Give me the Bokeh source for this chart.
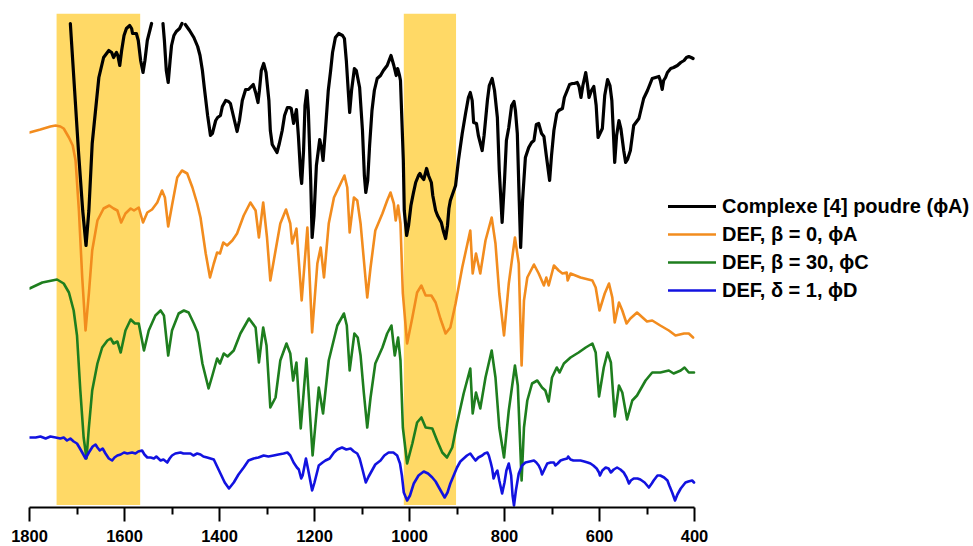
import numpy as np
from bokeh.plotting import figure
from bokeh.models import Range1d, FixedTicker, BoxAnnotation, Legend, LegendItem
from bokeh.core.properties import value
from bokeh.embed import file_html
from bokeh.resources import INLINE

nan = float("nan")

# ---------------- data (wavenumber cm-1, offset transmittance a.u.) ----------------
wn_black = [
    1714, 1705, 1697, 1688, 1681, 1675, 1668, 1661, 1654, 1644,
    1633, 1627, 1623, 1617, 1614, 1610, 1606, 1601, 1596, 1589,
    1585, 1583, 1575, 1571, 1566, 1561, 1557, 1552, 1543, 1531,
    1519, 1516, 1512, 1508, 1504, 1501, 1496, 1491, 1484, 1479,
    1476, 1472, 1463, 1454, 1446, 1441, 1436, 1432, 1425, 1419,
    1415, 1408, 1404, 1398, 1394, 1387, 1381, 1377, 1371, 1363,
    1358, 1352, 1345, 1339, 1335, 1329, 1324, 1319, 1316, 1312,
    1307, 1302, 1296, 1293, 1289, 1284, 1279, 1274, 1268, 1263,
    1257, 1253, 1249, 1244, 1238, 1234, 1229, 1227, 1223, 1220,
    1216, 1213, 1208, 1205, 1201, 1196, 1189, 1185, 1182, 1177,
    1171, 1166, 1162, 1156, 1149, 1145, 1141, 1137, 1133, 1129,
    1126, 1122, 1116, 1112, 1105, 1099, 1095, 1092, 1088, 1084,
    1079, 1074, 1068, 1061, 1055, 1047, 1043, 1039, 1036, 1033,
    1028, 1025, 1021, 1019, 1016, 1013, 1011, 1006, 1002, 997,
    992, 987, 981, 978, 975, 970, 964, 960, 954, 951,
    945, 941, 933, 929, 924, 920, 917, 914, 903, 897,
    889, 882, 876, 872, 868, 865, 859, 855, 847, 843,
    836, 832, 826, 821, 815, 811, 805, 800, 796, 791,
    785, 780, 777, 773, 769, 766, 762, 756, 749, 743,
    738, 733, 728, 722, 717, 712, 705, 701, 696, 690,
    686, 678, 674, 668, 663, 657, 653, 647, 643, 639,
    635, 629, 625, 622, 617, 612, 607, 603, 599, 594,
    589, 583, 578, 574, 571, 568, 564, 559, 555, 549,
    545, 541, 535, 528, 517, 513, 507, 499, 489, 482,
    475, 472, 468, 465, 461, 457, 450, 444, 436, 429,
    422, 417, 412, 407, 403]
t_black = [
    484, 417, 357, 297, 262, 297, 364, 397, 430, 450,
    457, 455, 450, 455, 452, 442, 457, 472, 479, 482,
    479, 474, 474, 467, 447, 435, 447, 467, 484, nan,
    484, 467, 437, 425, 447, 462, 472, 476, 479, 484,
    nan, 483, 477, 470, 461, 452, 437, 420, 392, 372,
    374, 387, 390, 392, 401, 407, 406, 404, 392, 376,
    387, 407, 418, 418, 420, 423, 415, 405, 417, 437,
    444, 435, 407, 377, 363, 359, 355, 364, 377, 392,
    400, 400, 399, 384, 398, 372, 332, 324, 357, 402,
    417, 397, 327, 270, 292, 342, 368, 359, 347, 377,
    417, 437, 455, 470, 474, 473, 472, 469, 447, 417,
    395, 417, 439, 437, 420, 377, 332, 315, 327, 362,
    397, 417, 429, 432, 437, 442, 447, 452, 447, 442,
    432, 439, 432, 427, 387, 347, 297, 272, 282, 302,
    314, 325, 332, 334, 331, 328, 339, 332, 325, 312,
    297, 292, 285, 277, 269, 282, 299, 307, 322, 347,
    374, 394, 410, 415, 407, 385, 384, 372, 357, 372,
    407, 422, 429, 417, 390, 337, 285, 327, 367, 380,
    402, 406, 397, 374, 307, 260, 307, 350, 360, 365,
    367, 383, 384, 374, 371, 352, 327, 352, 377, 394,
    397, 399, 410, 417, 423, 424, 424, 425, 421, 410,
    422, 435, 422, 410, 417, 421, 402, 370, 374, 379,
    412, 428, 422, 407, 377, 345, 372, 387, 379, 357,
    345, 348, 357, 382, 389, 397, 409, 417, 429, 430,
    431, 427, 418, 427, 430, 435, 439, 440, 442, 445,
    447, 450, 451, 450, 449]

wn_orange = [
    1800, 1777, 1756, 1745, 1735, 1728, 1717, 1709, 1703, 1696,
    1689, 1682, 1675, 1668, 1657, 1644, 1632, 1623, 1615, 1607,
    1598, 1587, 1580, 1570, 1561, 1552, 1542, 1531, 1521, 1515,
    1508, 1500, 1489, 1479, 1468, 1457, 1447, 1440, 1429, 1420,
    1412, 1405, 1399, 1392, 1384, 1373, 1363, 1349, 1335, 1324,
    1317, 1308, 1300, 1293, 1282, 1272, 1260, 1251, 1247, 1238,
    1227, 1215, 1205, 1194, 1187, 1180, 1170, 1159, 1145, 1137,
    1131, 1126, 1117, 1110, 1103, 1096, 1089, 1082, 1072, 1057,
    1047, 1040, 1033, 1029, 1024, 1019, 1014, 1005, 994, 984,
    975, 966, 954, 945, 935, 924, 914, 903, 889, 872,
    867, 860, 851, 840, 827, 819, 811, 801, 791, 778,
    770, 764, 759, 752, 738, 728, 717, 712, 707, 696,
    686, 678, 669, 667, 661, 640, 615, 608, 600, 589,
    580, 573, 568, 559, 552, 543, 535, 521, 507, 500,
    489, 472, 454, 440, 422, 412, 403]
t_orange = [
    375, 378, 381, 382, 381, 379, 370, 362, 347, 297,
    230, 177, 214, 257, 287, 299, 302, 299, 297, 285,
    294, 299, 297, 300, 285, 295, 298, 305, 317, 310,
    281, 302, 330, 337, 334, 320, 304, 290, 254, 230,
    244, 255, 254, 265, 262, 267, 274, 292, 305, 297,
    270, 305, 270, 227, 257, 284, 298, 284, 264, 279,
    207, 280, 175, 244, 260, 230, 284, 310, 324, 332,
    320, 275, 310, 307, 284, 247, 210, 240, 277, 294,
    307, 315, 304, 287, 302, 284, 214, 164, 190, 215,
    222, 212, 212, 205, 189, 174, 180, 204, 240, 277,
    234, 254, 234, 267, 290, 264, 214, 172, 224, 270,
    244, 142, 207, 230, 243, 234, 222, 230, 222, 242,
    237, 234, 235, 227, 234, 230, 227, 220, 197, 214,
    224, 210, 185, 205, 197, 184, 189, 195, 189, 186,
    187, 182, 177, 172, 174, 174, 170]

wn_green = [
    1800, 1773, 1742, 1728, 1717, 1707, 1700, 1693, 1686, 1680,
    1675, 1668, 1657, 1647, 1636, 1629, 1623, 1615, 1608, 1598,
    1587, 1578, 1570, 1559, 1549, 1535, 1524, 1517, 1508, 1500,
    1486, 1475, 1465, 1454, 1446, 1436, 1423, 1415, 1405, 1399,
    1391, 1383, 1370, 1356, 1338, 1324, 1317, 1308, 1301, 1293,
    1282, 1272, 1259, 1251, 1245, 1238, 1229, 1217, 1204, 1191,
    1182, 1170, 1152, 1138, 1132, 1126, 1116, 1109, 1103, 1096,
    1089, 1082, 1072, 1057, 1047, 1038, 1031, 1024, 1019, 1014,
    1005, 994, 984, 975, 966, 952, 942, 931, 921, 910,
    900, 886, 872, 867, 860, 851, 840, 827, 819, 811,
    801, 791, 778, 772, 764, 759, 752, 742, 731, 721,
    714, 707, 700, 690, 684, 675, 661, 644, 629, 615,
    608, 601, 591, 583, 576, 568, 559, 552, 542, 531,
    521, 503, 489, 472, 454, 444, 429, 421, 412, 401]
t_green = [
    219, 225, 228, 224, 215, 197, 172, 117, 70, 49,
    80, 117, 144, 160, 167, 169, 164, 166, 155, 177,
    188, 184, 184, 157, 177, 192, 197, 192, 152, 177,
    194, 197, 195, 184, 175, 144, 119, 132, 149, 144,
    154, 151, 157, 174, 189, 180, 145, 180, 162, 100,
    110, 147, 164, 154, 127, 145, 79, 149, 52, 120,
    94, 147, 182, 194, 182, 137, 174, 170, 152, 114,
    80, 110, 144, 160, 174, 182, 152, 170, 147, 80,
    44, 64, 85, 90, 80, 79, 67, 55, 50, 60,
    84, 114, 139, 94, 115, 99, 130, 157, 130, 80,
    50, 97, 142, 122, 27, 80, 107, 124, 127, 120,
    117, 106, 130, 140, 135, 144, 150, 155, 160, 164,
    155, 111, 140, 155, 145, 91, 122, 115, 88, 107,
    112, 127, 135, 135, 137, 134, 137, 140, 135, 135]

wn_blue = [
    1800, 1787, 1777, 1766, 1756, 1745, 1735, 1728, 1721, 1714,
    1707, 1700, 1695, 1689, 1682, 1675, 1667, 1661, 1657, 1652,
    1646, 1640, 1633, 1626, 1621, 1615, 1608, 1601, 1594, 1584,
    1577, 1571, 1563, 1558, 1552, 1545, 1538, 1533, 1524, 1518,
    1510, 1505, 1500, 1493, 1482, 1476, 1468, 1461, 1455, 1447,
    1440, 1434, 1426, 1419, 1412, 1405, 1398, 1389, 1380, 1375,
    1370, 1360, 1349, 1339, 1328, 1318, 1307, 1297, 1286, 1276,
    1265, 1257, 1251, 1244, 1237, 1233, 1228, 1225, 1218, 1213,
    1205, 1200, 1191, 1183, 1177, 1168, 1159, 1152, 1142, 1133,
    1124, 1117, 1110, 1105, 1100, 1092, 1086, 1079, 1072, 1061,
    1053, 1044, 1034, 1026, 1020, 1016, 1012, 1005, 999, 991,
    981, 970, 961, 952, 945, 938, 932, 926, 920, 914,
    907, 900, 893, 886, 879, 872, 866, 861, 855, 847,
    842, 836, 833, 829, 826, 823, 819, 815, 811, 805,
    800, 796, 791, 786, 783, 780, 776, 770, 763, 756,
    747, 738, 733, 728, 724, 721, 717, 710, 703, 696,
    693, 688, 682, 676, 668, 666, 661, 655, 647, 640,
    632, 625, 619, 613, 606, 601, 599, 594, 587, 581,
    576, 570, 563, 556, 549, 543, 538, 534, 528, 520,
    514, 505, 496, 490, 486, 478, 472, 464, 457, 453,
    447, 441, 436, 429, 419, 413, 405, 401]
t_blue = [
    70, 70, 71, 69, 71, 70, 69, 70, 67, 69,
    66, 64, 60, 55, 49, 55, 61, 63, 60, 57,
    59, 54, 49, 47, 50, 52, 53, 55, 54, 55,
    54, 56, 57, 53, 50, 50, 49, 51, 47, 48,
    45, 49, 52, 54, 55, 54, 54, 54, 52, 54,
    53, 51, 50, 49, 48, 41, 34, 25, 19, 22,
    25, 33, 40, 47, 49, 50, 52, 51, 52, 53,
    54, 55, 52, 45, 40, 38, 29, 32, 49, 37,
    17, 25, 42, 45, 47, 49, 55, 58, 60, 58,
    59, 56, 54, 49, 40, 25, 31, 37, 43, 47,
    52, 55, 55, 52, 44, 32, 15, 7, 12, 24,
    32, 36, 34, 30, 26, 20, 15, 10, 15, 24,
    32, 40, 46, 49, 52, 54, 50, 47, 50, 52,
    54, 55, 52, 45, 39, 29, 34, 37, 27, 14,
    25, 37, 44, 32, 12, 2, 17, 34, 42, 45,
    46, 47, 45, 42, 38, 33, 37, 44, 45, 45,
    42, 44, 47, 48, 49, 51, 48, 47, 47, 47,
    46, 45, 44, 42, 39, 35, 32, 37, 40, 39,
    35, 38, 40, 38, 35, 30, 24, 27, 29, 29,
    28, 25, 20, 24, 27, 32, 32, 30, 27, 22,
    15, 7, 13, 19, 25, 26, 27, 25]

band_start = [1743, 1012]
band_end = [1567, 902]

x_ticks = [1800, 1600, 1400, 1200, 1000, 800, 600, 400]
x_minor_ticks = [1700, 1500, 1300, 1100, 900, 700, 500]

series_labels = [
    "Complexe [4] poudre (\u03d5A)",
    "DEF, \u03b2 = 0, \u03d5A",
    "DEF, \u03b2 = 30, \u03d5C",
    "DEF, \u03b4 = 1, \u03d5D",
]
series_colors = ["#000000", "#F28C1E", "#1E7E1E", "#1212E0"]
series_widths = [3.2, 2.6, 2.6, 2.6]

# ---------------- figure ----------------
FONT = "Liberation Sans"
W, H = 973, 546
LEFT, TOP, BOTTOM = 29, 13, 39
FRAME_W = W - LEFT
UNITS_PER_PX = (max(x_ticks) - min(x_ticks)) / 665.0
x_end = max(x_ticks) - FRAME_W * UNITS_PER_PX   # frame runs on to the right edge for the legend

p = figure(width=W, height=H,
           x_range=Range1d(max(x_ticks), x_end), y_range=Range1d(0, 494),
           output_backend="svg", toolbar_location=None,
           y_axis_location=None,
           min_border_left=LEFT, min_border_right=0,
           min_border_top=TOP, min_border_bottom=BOTTOM)
p.outline_line_color = None
p.xgrid.visible = False
p.ygrid.visible = False
p.background_fill_color = "white"
p.border_fill_color = "white"

for s, e in zip(band_start, band_end):
    p.add_layout(BoxAnnotation(left=s, right=e, bottom=2.5,
                               fill_color="#FFD966", fill_alpha=1.0,
                               line_color=None, level="underlay"))

data = [(wn_black, t_black), (wn_orange, t_orange),
        (wn_green, t_green), (wn_blue, t_blue)]
renderers = []
for (x, y), c, w in zip(data, series_colors, series_widths):
    assert len(x) == len(y), (len(x), len(y))
    r = p.line(np.array(x, dtype=float), np.array(y, dtype=float),
               line_color=c, line_width=w, line_join="round", line_cap="round")
    renderers.append(r)

ax = p.xaxis[0]
ax.bounds = (min(x_ticks), max(x_ticks))
ax.ticker = FixedTicker(ticks=x_ticks, minor_ticks=x_minor_ticks)
ax.axis_line_width = 2
ax.axis_line_color = "black"
ax.major_tick_line_width = 2
ax.minor_tick_line_width = 2
ax.major_tick_in = 0
ax.major_tick_out = 14
ax.minor_tick_in = 0
ax.minor_tick_out = 7
ax.major_label_standoff = 8
ax.major_label_text_font = FONT
ax.major_label_text_font_style = "bold"
ax.major_label_text_font_size = "16.5px"
ax.major_label_text_color = "black"

legend = Legend(
    items=[LegendItem(label=value(l), renderers=[r]) for l, r in zip(series_labels, renderers)],
    location=(639, 203), orientation="vertical",
    glyph_width=48, glyph_height=28, label_height=28, label_standoff=6,
    spacing=0, padding=0, margin=0,
    border_line_color=None, background_fill_alpha=0,
    label_text_font=FONT, label_text_font_style="bold",
    label_text_font_size="20px", label_text_color="black",
    label_text_baseline="middle")
p.add_layout(legend, "center")

open("out.html", "w").write(file_html(p, INLINE))
